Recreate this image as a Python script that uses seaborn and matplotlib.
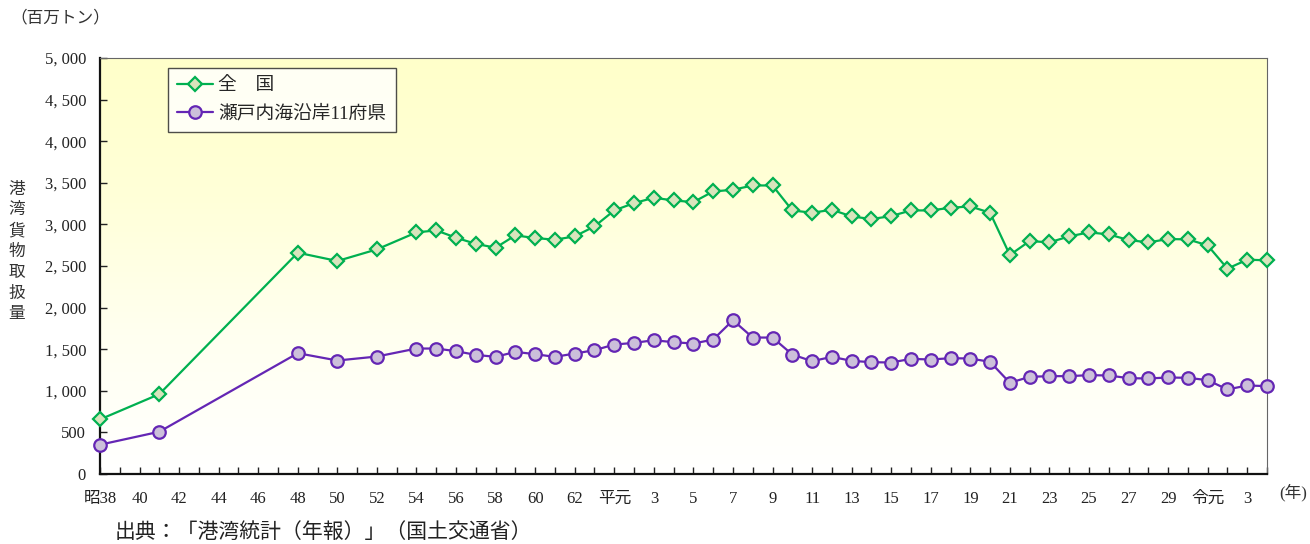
# Imports:
import numpy as np
import pandas as pd
import matplotlib
matplotlib.use("Agg")
import matplotlib.pyplot as plt
from matplotlib.colors import LinearSegmentedColormap
import seaborn as sns

# Data:
years = [1963, 1966, 1973, 1975, 1977, 1979,
         1980, 1981, 1982, 1983, 1984, 1985, 1986, 1987, 1988, 1989,
         1990, 1991, 1992, 1993, 1994, 1995, 1996, 1997, 1998, 1999,
         2000, 2001, 2002, 2003, 2004, 2005, 2006, 2007, 2008, 2009,
         2010, 2011, 2012, 2013, 2014, 2015, 2016, 2017, 2018, 2019,
         2020, 2021, 2022]

zenkoku = [656, 960, 2660, 2560, 2700, 2904,
           2928, 2840, 2766, 2720, 2868, 2836, 2816, 2856, 2976, 3168,
           3256, 3320, 3288, 3268, 3396, 3416, 3468, 3468, 3168, 3140,
           3176, 3096, 3064, 3100, 3168, 3168, 3200, 3216, 3140, 2632,
           2800, 2784, 2856, 2904, 2880, 2812, 2784, 2824, 2820, 2748,
           2468, 2576, 2568]

setonaikai = [352, 508, 1452, 1364, 1412, 1508,
              1508, 1476, 1432, 1408, 1468, 1440, 1408, 1448, 1488, 1556,
              1576, 1608, 1584, 1568, 1616, 1848, 1640, 1640, 1436, 1356,
              1408, 1360, 1344, 1340, 1384, 1376, 1392, 1388, 1348, 1096,
              1168, 1176, 1176, 1188, 1184, 1152, 1148, 1160, 1156, 1128,
              1016, 1064, 1056]

x_tick_years = [1963, 1965, 1967, 1969, 1971, 1973, 1975, 1977, 1979, 1981,
                1983, 1985, 1987, 1989, 1991, 1993, 1995, 1997, 1999, 2001,
                2003, 2005, 2007, 2009, 2011, 2013, 2015, 2017, 2019, 2021]
x_tick_labels = ["昭38", "40", "42", "44", "46", "48", "50", "52", "54", "56",
                 "58", "60", "62", "平元", "3", "5", "7", "9", "11", "13",
                 "15", "17", "19", "21", "23", "25", "27", "29", "令元", "3"]

y_ticks = [0, 500, 1000, 1500, 2000, 2500, 3000, 3500, 4000, 4500, 5000]
y_tick_labels = ["0", "500", "1, 000", "1, 500", "2, 000", "2, 500",
                 "3, 000", "3, 500", "4, 000", "4, 500", "5, 000"]

dataframe = pd.DataFrame({"year": years, "zenkoku": zenkoku, "setonaikai": setonaikai})

# Style:
sns.set_theme(style="white")
plt.rcParams["font.family"] = ["Liberation Serif", "Noto Sans CJK JP", "DejaVu Sans"]

# Figure:
fig = plt.figure(figsize=(13.1, 5.44), dpi=100)
ax = fig.add_axes([100 / 1310, 70 / 544, 1167 / 1310, 416 / 544])

# Background gradient:
cmap = LinearSegmentedColormap.from_list("bg", ["#FFFFFF", "#FFFFF0", "#FFFFD8", "#FFFFCA"])
gradient = np.linspace(0, 1, 256).reshape(-1, 1)
ax.imshow(gradient, extent=[0, 1, 0, 1], transform=ax.transAxes, cmap=cmap,
          aspect="auto", origin="lower", zorder=0)

# Lines:
sns.lineplot(data=dataframe, x="year", y="zenkoku", ax=ax, color="#00B050",
             linewidth=1.6, marker="D", markersize=7.5, markerfacecolor="#D8E4BC",
             markeredgecolor="#00B050", markeredgewidth=1.6, clip_on=False,
             label="全\u3000国", zorder=3)
sns.lineplot(data=dataframe, x="year", y="setonaikai", ax=ax, color="#6426B4",
             linewidth=1.6, marker="o", markersize=9, markerfacecolor="#CCC0DA",
             markeredgecolor="#6426B4", markeredgewidth=1.6, clip_on=False,
             label="瀬戸内海沿岸11府県", zorder=3)

# Axes:
ax.set_xlim(1963, 2022)
ax.set_ylim(0, 5000)
ax.set_xticks(x_tick_years)
ax.set_xticklabels(x_tick_labels)
ax.set_xticks(list(range(1963, 2023)), minor=True)
ax.set_yticks(y_ticks)
ax.set_yticklabels(y_tick_labels)
ax.tick_params(axis="x", which="major", direction="in", length=5, width=1,
               labelsize=12, pad=12, colors="#222222", bottom=True)
ax.tick_params(axis="x", which="minor", direction="in", length=5, width=1,
               bottom=True, colors="#222222")
ax.tick_params(axis="y", direction="in", length=5, width=1, labelsize=12,
               pad=10, colors="#222222", left=True)
ax.set_xlabel("")
ax.set_ylabel("")

for side in ["left", "bottom"]:
    ax.spines[side].set_color("#111111")
    ax.spines[side].set_linewidth(1.6)
for side in ["right", "top"]:
    ax.spines[side].set_color("#666666")
    ax.spines[side].set_linewidth(0.8)

# Legend:
legend = ax.legend(loc="upper left", bbox_to_anchor=(0.058, 0.976), fontsize=13.5,
                   frameon=True, fancybox=False, edgecolor="#222222",
                   handlelength=1.9, handletextpad=0.3, borderpad=0.5,
                   labelspacing=0.55, borderaxespad=0)
legend.get_frame().set_linewidth(1.0)
legend.get_frame().set_facecolor("white")

# Texts:
fig.text(10 / 1310, 1 - 18 / 544, "（百万トン）", fontsize=12, va="center", ha="left",
         color="#333333")
fig.text(17 / 1310, 1 - 252 / 544, "\n".join("港湾貨物取扱量"), fontsize=12,
         va="center", ha="center", linespacing=1.4, color="#333333")
fig.text(1293 / 1310, 1 - 493 / 544, "(年)", fontsize=12, va="center", ha="center",
         color="#333333")
fig.text(115 / 1310, 1 - 533 / 544, "出典：「港湾統計（年報）」（国土交通省）", fontsize=15,
         va="center", ha="left", color="#222222")

# Save:
fig.savefig("out.png", dpi=100)
